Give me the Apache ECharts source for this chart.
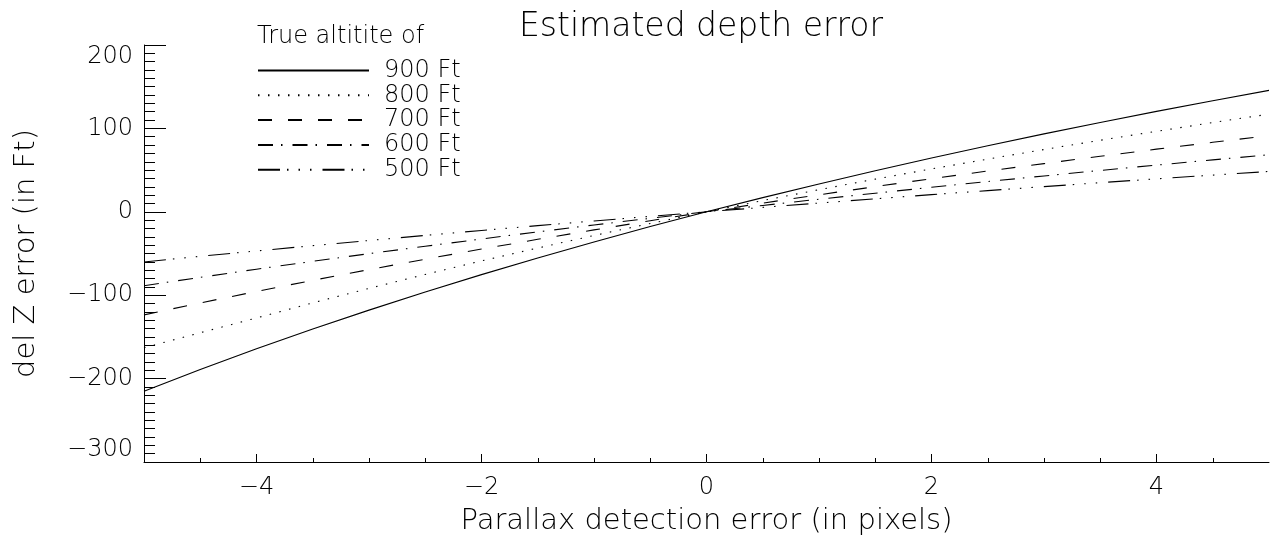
<!DOCTYPE html>
<html>
<head>
<meta charset="utf-8">
<script src="https://cdn.jsdelivr.net/npm/echarts@6/dist/echarts.min.js"></script>
<style>
html,body{margin:0;padding:0;background:#fff;}
#chart{width:1275px;height:543px;}
</style>
</head>
<body>
<div id="chart"></div>
<script>
// ---- data ----
const titleText = 'Estimated depth error';
const legendTitle = 'True altitite of';
const xAxisTitle = 'Parallax detection error (in pixels)';
const yAxisTitle = 'del Z error (in Ft)';

const xValues = [-5, -4.5, -4, -3.5, -3, -2.5, -2, -1.5, -1, -0.5, 0, 0.5, 1, 1.5, 2, 2.5, 3, 3.5, 4, 4.5, 5];

const seriesNames = ['900 Ft', '800 Ft', '700 Ft', '600 Ft', '500 Ft'];
const alt900 = [-215.2, -189.2, -164.3, -140.6, -117.9, -96.1, -75.3, -55.3, -36.1, -17.7, 0, 17.0, 33.4, 49.3, 64.5, 79.2, 93.4, 107.1, 120.4, 133.2, 145.6];
const alt800 = [-163.0, -145.0, -127.3, -109.2, -91.8, -75.1, -58.9, -43.4, -28.4, -14.0, 0, 13.5, 26.5, 39.2, 51.4, 63.2, 74.7, 85.8, 96.5, 107.0, 117.1];
const alt700 = [-123.6, -109.3, -95.5, -82.2, -69.3, -56.8, -44.7, -33.0, -21.7, -10.7, 0, 10.4, 20.4, 30.2, 39.7, 48.9, 57.8, 66.6, 75.1, 83.3, 91.4];
const alt600 = [-88.6, -78.6, -68.8, -59.4, -50.2, -41.3, -32.6, -24.1, -15.8, -7.8, 0, 7.6, 15.1, 22.3, 29.4, 36.3, 43.0, 49.6, 56.0, 62.3, 68.4];
const alt500 = [-60.1, -53.4, -46.9, -40.6, -34.4, -28.3, -22.4, -16.6, -11.0, -5.4, 0, 5.3, 10.5, 15.6, 20.6, 25.4, 30.2, 34.9, 39.5, 44.0, 48.4];

const xMajorTicks = [-4, -2, 0, 2, 4];
const xMinorTicks = [-4.5, -3.5, -3, -2.5, -1.5, -1, -0.5, 0.5, 1, 1.5, 2.5, 3, 3.5, 4.5];
const yMin = -300, yMax = 200, yStep = 100;
const xMin = -5, xMax = 5;

// ---- chart ----
const FONT = 'DejaVu Sans';
const WEIGHT = 200;
const seriesData = [alt900, alt800, alt700, alt600, alt500];
const dashes = ['solid', [1.5, 8.5], [14, 16], [15, 8, 1.5, 10], [22, 7, 1.5, 10, 1.5, 10, 1.5, 11]];

const chart = echarts.init(document.getElementById('chart'), null, {renderer: 'canvas'});

const minusFmt = v => (v < 0 ? '\u2212' + Math.abs(v) : String(v));

const option = {
  animation: false,
  backgroundColor: '#ffffff',
  title: [
    {
      text: titleText, left: 701, top: 11, textAlign: 'center', padding: 0,
      textStyle: {fontFamily: FONT, fontSize: 33, fontWeight: WEIGHT, color: '#000'}
    },
    {
      text: legendTitle, left: 257, top: 25, padding: 0,
      textStyle: {fontFamily: FONT, fontSize: 24, fontWeight: WEIGHT, color: '#000'}
    }
  ],
  legend: {
    orient: 'vertical', left: 257, top: 51, padding: 0,
    icon: 'inherit',
    itemWidth: 111, itemHeight: 14, itemGap: -14.2,
    itemStyle: {opacity: 0},
    selectedMode: false,
    data: seriesNames,
    textStyle: {fontFamily: FONT, fontSize: 24, fontWeight: WEIGHT, color: '#000', lineHeight: 24, padding: [0, 0, 15, 10]}
  },
  grid: {left: 144, right: 6, top: 45, bottom: 81, containLabel: false},
  xAxis: [
    {
      type: 'value', min: xMin, max: xMax, position: 'bottom',
      axisLine: {show: true, onZero: false, lineStyle: {color: '#000', width: 1}},
      axisTick: {show: true, inside: true, length: 8, customValues: xMajorTicks, lineStyle: {color: '#000'}},
      axisLabel: {show: true, customValues: xMajorTicks, margin: 14, fontFamily: FONT, fontSize: 24, fontWeight: WEIGHT, color: '#000',
        formatter: minusFmt},
      splitLine: {show: false},
      name: xAxisTitle, nameLocation: 'middle', nameGap: 45,
      nameTextStyle: {fontFamily: FONT, fontSize: 29, fontWeight: WEIGHT, color: '#000'}
    },
    {
      type: 'value', min: xMin, max: xMax, position: 'bottom', offset: 0,
      axisLine: {show: false, onZero: false},
      axisTick: {show: true, inside: true, length: 4, customValues: xMinorTicks, lineStyle: {color: '#000'}},
      axisLabel: {show: false},
      splitLine: {show: false}
    }
  ],
  yAxis: {
    type: 'value', min: yMin, max: yMax, interval: yStep,
    axisLine: {show: true, onZero: false, lineStyle: {color: '#000', width: 1}},
    axisTick: {show: true, inside: true, length: 22, lineStyle: {color: '#000'}},
    minorTick: {show: true, splitNumber: 10, length: 11, lineStyle: {color: '#000'}},
    axisLabel: {margin: 11, fontFamily: FONT, fontSize: 24, fontWeight: WEIGHT, color: '#000',
      verticalAlignMinLabel: 'bottom', verticalAlignMaxLabel: 'top',
      formatter: minusFmt},
    splitLine: {show: false},
    minorSplitLine: {show: false},
    name: yAxisTitle, nameLocation: 'middle', nameGap: 103, nameRotate: 90,
    nameTextStyle: {fontFamily: FONT, fontSize: 29, fontWeight: WEIGHT, color: '#000'}
  },
  series: seriesNames.map((name, i) => ({
    name: name,
    type: 'line',
    xAxisIndex: 0, yAxisIndex: 0,
    data: xValues.map((x, j) => [x, seriesData[i][j]]),
    symbol: 'none', showSymbol: false,
    lineStyle: {color: '#000', width: 1.1, type: dashes[i]},
    itemStyle: {color: '#000'},
    emphasis: {disabled: true},
    silent: true
  }))
};
chart.setOption(option);
</script>
</body>
</html>
